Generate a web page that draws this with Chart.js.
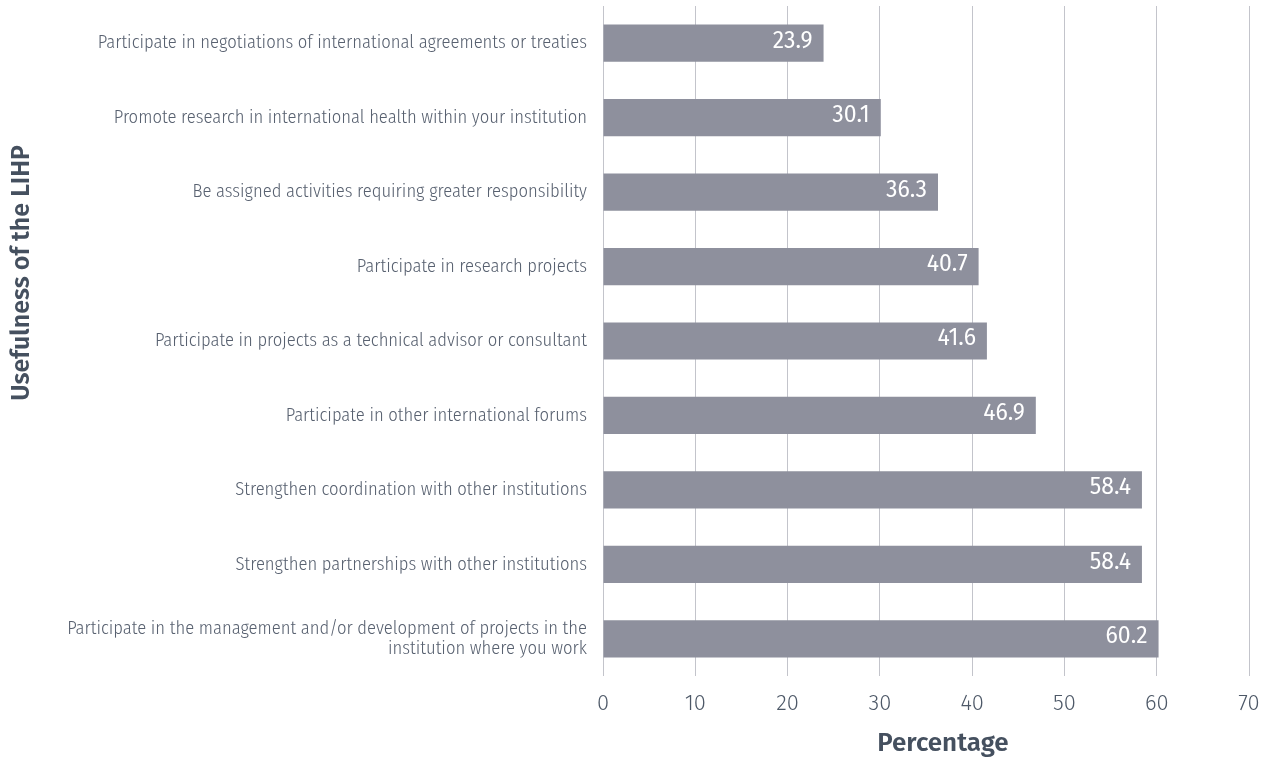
<!DOCTYPE html>
<html>
<head>
<meta charset="utf-8">
<script src="https://cdn.jsdelivr.net/npm/chart.js@4/dist/chart.umd.min.js"></script>
<style>
  html, body { margin: 0; padding: 0; background: #ffffff; }
  #wrap { width: 1273px; height: 758px; position: relative; }
</style>
</head>
<body>
<div id="wrap"><canvas id="c"></canvas></div>
<script>
const categories = [
  "Participate in negotiations of international agreements or treaties",
  "Promote research in international health within your institution",
  "Be assigned activities requiring greater responsibility",
  "Participate in research projects",
  "Participate in projects as a technical advisor or consultant",
  "Participate in other international forums",
  "Strengthen coordination with other institutions",
  "Strengthen partnerships with other institutions",
  ["Participate in the management and/or development of projects in the", "institution where you work"]
];
const percentages = [23.9, 30.1, 36.3, 40.7, 41.6, 46.9, 58.4, 58.4, 60.2];
const xTicks = [0, 10, 20, 30, 40, 50, 60, 70];
const xTitle = "Percentage";
const yTitle = "Usefulness of the LIHP";

const condFont = '"Fira Sans Condensed", "Roboto Condensed", sans-serif';
const mainFont = '"Fira Sans", "Open Sans", sans-serif';

const extras = {
  id: 'extras',
  afterDatasetsDraw(chart) {
    const ctx = chart.ctx;
    const meta = chart.getDatasetMeta(0);
    ctx.save();
    ctx.fillStyle = '#ffffff';
    ctx.font = '23px ' + mainFont;
    ctx.textAlign = 'right';
    ctx.textBaseline = 'middle';
    meta.data.forEach((bar, i) => {
      ctx.fillText(percentages[i].toFixed(1), bar.x - 11, bar.y - 2);
    });
    ctx.restore();
  },
  afterDraw(chart) {
    const ctx = chart.ctx;
    ctx.save();
    ctx.fillStyle = '#45505f';
    ctx.font = '600 26px ' + mainFont;
    ctx.textAlign = 'center';
    ctx.textBaseline = 'middle';
    ctx.fillText(xTitle, 943, 744);
    ctx.translate(22, 273);
    ctx.rotate(-Math.PI / 2);
    ctx.font = '600 25px ' + mainFont;
    ctx.fillText(yTitle, 0, 0);
    ctx.restore();
  }
};

new Chart(document.getElementById('c'), {
  type: 'bar',
  data: {
    labels: categories,
    datasets: [{
      data: percentages,
      backgroundColor: '#8e909d',
      borderWidth: 0,
      barPercentage: 0.5,
      categoryPercentage: 1.0
    }]
  },
  plugins: [extras],
  options: {
    indexAxis: 'y',
    responsive: true,
    maintainAspectRatio: false,
    animation: false,
    layout: { padding: { left: 0, right: 24, top: 6, bottom: 0 } },
    plugins: { legend: { display: false }, tooltip: { enabled: false } },
    scales: {
      x: {
        min: 0, max: 70,
        afterBuildTicks(scale) { scale.ticks = xTicks.map(v => ({ value: v })); },
        afterFit(scale) { scale.height = 82; scale.paddingLeft = 0; scale.paddingRight = 0; },
        grid: { color: '#c3c4cb', lineWidth: 1, drawTicks: false },
        border: { display: false },
        ticks: {
          color: '#4d5867',
          font: { size: 22, weight: '300', family: mainFont },
          padding: 15
        },
        title: { display: false }
      },
      y: {
        grid: { display: false, drawTicks: false },
        border: { display: false },
        afterFit(scale) { scale.width = 603; scale.paddingTop = 0; scale.paddingBottom = 0; },
        ticks: {
          color: '#586170',
          font: { size: 18.5, weight: '300', family: condFont, lineHeight: 1.1 },
          padding: 16,
          autoSkip: false
        },
        title: { display: false }
      }
    }
  }
});
</script>
</body>
</html>
